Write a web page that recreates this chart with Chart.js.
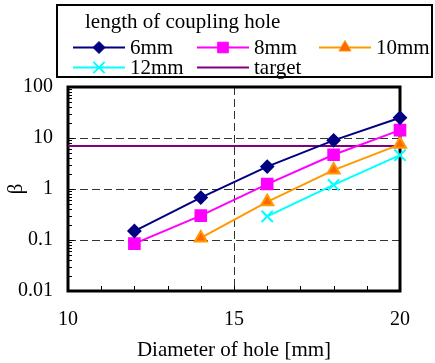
<!DOCTYPE html>
<html>
<head>
<meta charset="utf-8">
<script src="https://cdn.jsdelivr.net/npm/chart.js@4.4.1/dist/chart.umd.min.js"></script>
<style>
  html, body { margin: 0; padding: 0; background: #fff; }
  #wrap { width: 435px; height: 363px; position: relative; }
</style>
</head>
<body>
<div id="wrap"><canvas id="chart" width="435" height="363"></canvas></div>
<script>
// Data (beta vs hole diameter, log y-axis)
const diameters = [12, 14, 16, 18, 20];
const beta6mm  = [0.15, 0.68, 2.75, 9.0, 25];
const beta8mm  = [0.085, 0.30, 1.25, 4.7, 14.3];
const beta10mm = [null, 0.11, 0.56, 2.35, 7.5];
const beta12mm = [null, null, 0.29, 1.2, 4.6];
const targetX = [10, 20];
const targetY = [7.0, 7.0];

const xTicks = [10, 15, 20];
const yTicks = [0.01, 0.1, 1, 10, 100];
const yTickLabels = ['0.01', '0.1', '1', '10', '100'];

const FONT = "'Liberation Serif', 'Times New Roman', serif";

function toPoints(xs, ys){
  return xs.map((x, i) => ({ x: x, y: ys[i] })).filter(p => p.y !== null);
}

const datasets = [
  { label: '6mm', data: toPoints(diameters, beta6mm), borderColor: '#000080', backgroundColor: '#000080',
    pointStyle: 'rectRot', pointRadius: 6 },
  { label: '8mm', data: toPoints(diameters, beta8mm), borderColor: '#FF00FF', backgroundColor: '#FF00FF',
    pointStyle: 'rect', pointRadius: 7.5 },
  { label: '10mm', data: toPoints(diameters, beta10mm), borderColor: '#FF9900', backgroundColor: '#FF6600',
    pointStyle: 'triangle', pointRadius: 7 },
  { label: '12mm', data: toPoints(diameters, beta12mm), borderColor: '#00FFFF', backgroundColor: '#00FFFF',
    pointStyle: 'crossRot', pointRadius: 8, pointBorderWidth: 2 },
  { label: 'target', data: toPoints(targetX, targetY), borderColor: '#800080', backgroundColor: '#800080',
    pointRadius: 0 }
].map(d => Object.assign({ borderWidth: 2, fill: false, tension: 0, clip: false }, d));

// grid, frame and inward ticks
const framePlugin = {
  id: 'frame',
  beforeDatasetsDraw(chart){
    const {ctx, chartArea: a, scales: {x, y}} = chart;
    ctx.save();
    ctx.strokeStyle = '#333';
    ctx.lineWidth = 1;
    ctx.setLineDash([8, 4]);
    [0.1, 1, 10].forEach(v => {
      const py = Math.round(y.getPixelForValue(v)) + 0.5;
      ctx.beginPath(); ctx.moveTo(a.left, py); ctx.lineTo(a.right, py); ctx.stroke();
    });
    const px = Math.round(x.getPixelForValue(15)) + 0.5;
    ctx.beginPath(); ctx.moveTo(px, a.top); ctx.lineTo(px, a.bottom); ctx.stroke();
    ctx.setLineDash([]);

    // minor ticks
    ctx.strokeStyle = '#000';
    ctx.lineWidth = 1;
    for (let e = -2; e < 2; e++) {
      for (let m = 1; m < 10; m++) {
        const py = Math.round(y.getPixelForValue(m * Math.pow(10, e))) + 0.5;
        const len = m === 1 ? 6 : 4;
        ctx.beginPath(); ctx.moveTo(a.left, py); ctx.lineTo(a.left + len, py); ctx.stroke();
      }
    }
    for (let v = 11; v < 20; v++) {
      const px2 = Math.round(x.getPixelForValue(v)) + 0.5;
      ctx.beginPath(); ctx.moveTo(px2, a.bottom); ctx.lineTo(px2, a.bottom - 5); ctx.stroke();
    }

    ctx.lineWidth = 3;
    ctx.strokeRect(a.left, a.top, a.right - a.left, a.bottom - a.top);
    ctx.restore();
  }
};

// legend box at the top
const legendPlugin = {
  id: 'boxLegend',
  afterDraw(chart){
    const ctx = chart.ctx;
    const ds = chart.data.datasets;
    const slots = [
      { i: 0, x: 73, y: 47.5 }, { i: 1, x: 197, y: 47.5 }, { i: 2, x: 319, y: 47.5 },
      { i: 3, x: 73, y: 67.5 }, { i: 4, x: 197, y: 67.5 }
    ];
    ctx.save();
    ctx.strokeStyle = '#000';
    ctx.lineWidth = 2;
    ctx.strokeRect(57, 5, 375, 72);
    ctx.fillStyle = '#000';
    ctx.font = '21px ' + FONT;
    ctx.textBaseline = 'alphabetic';
    ctx.fillText('length of coupling hole', 85, 28);
    slots.forEach(s => {
      const d = ds[s.i];
      ctx.strokeStyle = d.borderColor;
      ctx.lineWidth = 2;
      ctx.beginPath(); ctx.moveTo(s.x, s.y); ctx.lineTo(s.x + 52, s.y); ctx.stroke();
      if (d.pointRadius > 0) {
        ctx.fillStyle = d.backgroundColor;
        ctx.lineWidth = d.pointBorderWidth || 1;
        Chart.helpers.drawPoint(ctx, { pointStyle: d.pointStyle, radius: d.pointRadius, borderWidth: 1, rotation: 0 },
          s.x + 26, s.y);
      }
      ctx.fillStyle = '#000';
      ctx.fillText(d.label, s.x + 57, s.y + 6);
    });
    ctx.restore();
  }
};

new Chart(document.getElementById('chart'), {
  type: 'line',
  data: { datasets },
  options: {
    responsive: false,
    animation: false,
    layout: { padding: { top: 87, right: 35, left: 0, bottom: 0 } },
    plugins: { legend: { display: false }, tooltip: { enabled: false } },
    scales: {
      x: {
        type: 'linear', min: 10, max: 20,
        afterBuildTicks: s => { s.ticks = xTicks.map(v => ({ value: v })); },
        afterFit: s => { s.height = 72; },
        grid: { display: false, drawTicks: false },
        border: { display: false },
        ticks: { color: '#000', font: { family: FONT, size: 20 }, padding: 17, maxRotation: 0 },
        title: { display: true, text: 'Diameter of hole [mm]', color: '#000',
                 font: { family: FONT, size: 21 }, padding: { top: 0, bottom: 0 } }
      },
      y: {
        type: 'logarithmic', min: 0.01, max: 100,
        afterBuildTicks: s => { s.ticks = yTicks.map(v => ({ value: v })); },
        afterFit: s => { s.width = 68; },
        grid: { display: false, drawTicks: false },
        border: { display: false },
        ticks: { color: '#000', font: { family: FONT, size: 20 }, padding: 15,
                 callback: (v) => { const k = yTicks.indexOf(v); return k >= 0 ? yTickLabels[k] : ''; } },
        title: { display: true, text: 'β', color: '#000',
                 font: { family: FONT, size: 21 }, padding: { top: 4, bottom: 0 } }
      }
    }
  },
  plugins: [framePlugin, legendPlugin]
});
</script>
</body>
</html>
